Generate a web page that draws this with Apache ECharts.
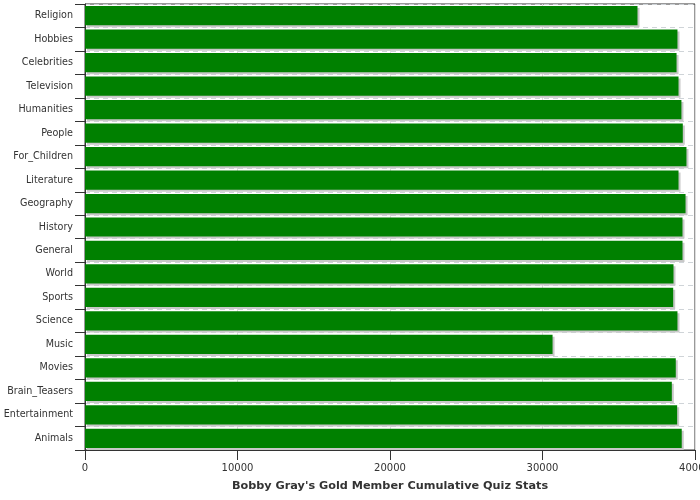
<!DOCTYPE html>
<html>
<head>
<meta charset="utf-8">
<script src="https://cdn.jsdelivr.net/npm/echarts@6/dist/echarts.min.js"></script>
<style>
  html, body { margin: 0; padding: 0; background: #fff; }
  #chart { width: 700px; height: 500px; }
</style>
</head>
<body>
<div id="chart"></div>
<script>
// categories, top to bottom
const categories = ['Religion', 'Hobbies', 'Celebrities', 'Television', 'Humanities', 'People',
  'For_Children', 'Literature', 'Geography', 'History', 'General', 'World', 'Sports',
  'Science', 'Music', 'Movies', 'Brain_Teasers', 'Entertainment', 'Animals']
const scores = [36230, 38850, 38790, 38920, 39110, 39200,
  39440, 38920, 39380, 39180, 39180, 38590, 38570,
  38850, 30660, 38740, 38480, 38830, 39130]
const xTicks = [0, 10000, 20000, 30000, 40000]
const axisTitle = "Bobby Gray's Gold Member Cumulative Quiz Stats"

const chart = echarts.init(document.getElementById('chart'))

chart.setOption({
  animation: false,
  textStyle: { fontFamily: 'DejaVu Sans' },
  grid: {
    left: 85,
    right: 5,
    top: 4,
    bottom: 50,
    outerBoundsMode: 'none',
    containLabel: false,
    show: true,
    borderColor: '#333',
    borderWidth: 1
  },
  xAxis: {
    type: 'value',
    min: xTicks[0],
    max: xTicks[xTicks.length - 1],
    interval: 10000,
    name: axisTitle,
    nameLocation: 'middle',
    nameGap: 31,
    nameTextStyle: { color: '#333', fontWeight: 'bold', fontSize: 11.25 },
    axisLine: { show: true, lineStyle: { color: '#333' } },
    axisTick: { show: true, length: 10, lineStyle: { color: '#333' } },
    axisLabel: { color: '#333', fontSize: 10, margin: 13, formatter: v => String(v) },
    splitLine: { show: true, lineStyle: { color: '#ddd', type: 'solid' } }
  },
  yAxis: {
    type: 'category',
    data: categories,
    inverse: true,
    axisLine: { show: true, lineStyle: { color: '#333' } },
    axisTick: { show: true, length: 10, lineStyle: { color: '#333' } },
    axisLabel: { color: '#333', fontSize: 9.6, margin: 12 },
    splitLine: { show: true, lineStyle: { color: '#cfd4d8', type: [5, 4] } }
  },
  series: [
    {
      type: 'bar',
      data: scores,
      barCategoryGap: '18%',
      itemStyle: {
        color: '#008000',
        shadowColor: '#c8c8c8',
        shadowBlur: 0,
        shadowOffsetX: 2,
        shadowOffsetY: 2
      }
    }
  ]
})
</script>
</body>
</html>
